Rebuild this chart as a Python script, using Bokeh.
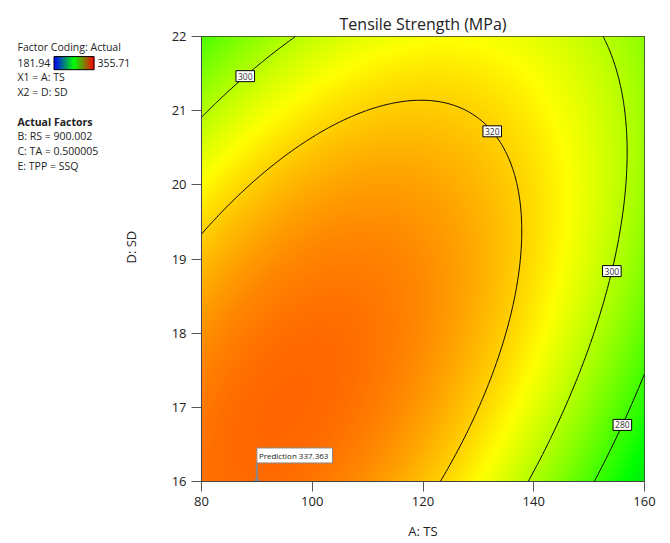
import numpy as np
from bokeh.plotting import figure
from bokeh.layouts import row
from bokeh.models import Range1d, FixedTicker, Label
from bokeh.core.properties import value
from bokeh.embed import file_html
from bokeh.resources import INLINE

# ---- response model: Tensile Strength (MPa) vs A: TS and D: SD ----
ts_range = [80, 160]          # A: TS (actual units)
sd_range = [16, 22]           # D: SD (actual units)
# quadratic in coded units u=(A-120)/40, v=(D-19)/3
# terms: [intercept, u, v, u*v, u^2, v^2]
coefs = [331.54, -15.7, -5.9, 21.4, -24.0, -14.4]
color_min, color_max = 181.94, 355.71

contour_levels = [280, 300, 320]
# contour labels: level, A position, which crossing along D
label_levels = [300, 320, 300, 280]
label_ts = [87.9, 132.5, 154.1, 156.0]
label_branch = ["hi", "hi", "lo", "lo"]

pred_ts, pred_sd, pred_value = 90.0, 16.0, 337.363

legend_lines = ["Factor Coding: Actual", "X1 = A: TS", "X2 = D: SD"]
factor_lines = ["B: RS = 900.002", "C: TA = 0.500005", "E: TPP = SSQ"]

FONT = "Open Sans"
TXT = "#222222"


def coded(a, d):
    u = (a - (ts_range[0] + ts_range[1]) / 2) / ((ts_range[1] - ts_range[0]) / 2)
    v = (d - (sd_range[0] + sd_range[1]) / 2) / ((sd_range[1] - sd_range[0]) / 2)
    return u, v


def model(a, d):
    u, v = coded(a, d)
    b0, b1, b2, b12, b11, b22 = coefs
    return b0 + b1 * u + b2 * v + b12 * u * v + b11 * u * u + b22 * v * v


def sd_on_level(level, a, branch):
    u, _ = coded(a, 0.0)
    b0, b1, b2, b12, b11, b22 = coefs
    qa, qb, qc = b22, b2 + b12 * u, b0 + b1 * u + b11 * u * u - level
    disc = np.sqrt(qb * qb - 4 * qa * qc)
    roots = [(-qb + disc) / (2 * qa), (-qb - disc) / (2 * qa)]
    v = max(roots) if branch == "hi" else min(roots)
    half = (sd_range[1] - sd_range[0]) / 2
    return (sd_range[0] + sd_range[1]) / 2 + v * half


def surface_rgb(t):
    # blue -> green -> yellow -> red
    stops = [0.0, 0.5, 0.75, 1.0]
    r = np.interp(t, stops, [0, 0, 255, 255])
    g = np.interp(t, stops, [0, 255, 255, 0])
    b = np.interp(t, stops, [255, 0, 0, 0])
    return r, g, b


def legend_rgb(t):
    stops = [0.0, 0.5, 1.0]
    r = np.interp(t, stops, [0, 0, 255])
    g = np.interp(t, stops, [0, 255, 0])
    b = np.interp(t, stops, [255, 0, 0])
    return r, g, b


# ---- main contour plot ----
p = figure(width=510, height=543, x_range=Range1d(*ts_range), y_range=Range1d(*sd_range),
           output_backend="svg", toolbar_location=None,
           min_border_left=41, min_border_right=26, min_border_top=36, min_border_bottom=62)
p.grid.visible = False
p.background_fill_color = "white"
p.border_fill_color = "white"
p.outline_line_color = "#333333"

p.title.text = "Tensile Strength (MPa)"
p.title.align = "center"
p.title.text_font = FONT
p.title.text_font_size = "16px"
p.title.text_font_style = "normal"
p.title.text_color = TXT
p.title.standoff = 4

# smooth colour surface
nx, ny = 443, 445
ax = np.linspace(ts_range[0], ts_range[1], nx)
dy = np.linspace(sd_range[0], sd_range[1], ny)
A, D = np.meshgrid(ax, dy)
Z = model(A, D)
t = np.clip((Z - color_min) / (color_max - color_min), 0, 1)
r, g, b = surface_rgb(t)
img = np.empty((ny, nx), dtype=np.uint32)
view = img.view(dtype=np.uint8).reshape((ny, nx, 4))
view[:, :, 0] = r.astype(np.uint8)
view[:, :, 1] = g.astype(np.uint8)
view[:, :, 2] = b.astype(np.uint8)
view[:, :, 3] = 255
p.image_rgba(image=[img], x=ts_range[0], y=sd_range[0],
             dw=ts_range[1] - ts_range[0], dh=sd_range[1] - sd_range[0])

# contour lines
cx = np.linspace(ts_range[0], ts_range[1], 240)
cy = np.linspace(sd_range[0], sd_range[1], 240)
CA, CD = np.meshgrid(cx, cy)
p.contour(x=cx, y=cy, z=model(CA, CD), levels=contour_levels,
          line_color="black", line_width=1)

for lev, a, br in zip(label_levels, label_ts, label_branch):
    p.add_layout(Label(x=a, y=sd_on_level(lev, a, br), text=str(lev),
                       text_align="center", text_baseline="middle",
                       text_font=FONT, text_font_size="8.5px", text_color="#333333",
                       background_fill_color="white", border_line_color="black",
                       border_line_width=1, padding=2))

# prediction flag
p.segment(x0=[pred_ts], y0=[pred_sd], x1=[pred_ts], y1=[pred_sd + 0.25],
          line_color="#888888", line_width=2)
p.scatter(x=[pred_ts], y=[pred_sd], size=5, color="#888888")
p.add_layout(Label(x=pred_ts, y=pred_sd + 0.25, text=f"Prediction  {pred_value:.3f}",
                   text_align="left", text_baseline="bottom",
                   text_font=FONT, text_font_size="8px", text_color=TXT,
                   background_fill_color="white", border_line_color="#888888",
                   border_line_width=1, padding=2))

# axes
p.xaxis.ticker = FixedTicker(ticks=[80, 100, 120, 140, 160])
p.yaxis.ticker = FixedTicker(ticks=[16, 17, 18, 19, 20, 21, 22])
for axis in (p.xaxis, p.yaxis):
    axis.major_tick_out = 10
    axis.major_tick_in = 0
    axis.minor_tick_out = 0
    axis.minor_tick_in = 0
    axis.axis_line_color = "#444444"
    axis.major_tick_line_color = "#555555"
    axis.major_label_text_font = FONT
    axis.major_label_text_font_size = "13px"
    axis.major_label_text_color = TXT
p.xaxis.axis_label = "A: TS"
p.xaxis.axis_label_text_font = FONT
p.xaxis.axis_label_text_font_size = "13px"
p.xaxis.axis_label_text_font_style = "normal"
p.xaxis.axis_label_text_color = TXT
p.xaxis.axis_label_standoff = 13

# ---- side panel with coding info, colour key and y-axis title ----
s = figure(width=160, height=543, x_range=Range1d(0, 160), y_range=Range1d(543, 0),
           output_backend="svg", toolbar_location=None,
           x_axis_location=None, y_axis_location=None, min_border=0)
s.grid.visible = False
s.outline_line_color = None
s.background_fill_color = "white"
s.border_fill_color = "white"

s.text(x=[17, 17, 17], y=[13, 50, 68], text=legend_lines, text_font=value(FONT),
       text_font_size="10.5px", text_color=TXT, text_baseline="middle")
s.text(x=[17], y=[32], text=[f"{color_min:.2f}"], text_font=value(FONT),
       text_font_size="10.5px", text_color=TXT, text_baseline="middle")
s.text(x=[97], y=[32], text=[f"{color_max:.2f}"], text_font=value(FONT),
       text_font_size="10.5px", text_color=TXT, text_baseline="middle")
s.text(x=[17], y=[104], text=["Actual Factors"], text_font=value(FONT),
       text_font_size="10.5px", text_font_style="bold", text_color=TXT, text_baseline="middle")
s.text(x=[17, 17, 17], y=[122, 140, 158], text=factor_lines, text_font=value(FONT),
       text_font_size="10.5px", text_color=TXT, text_baseline="middle")

# colour key
nk = 40
edges = np.linspace(53.5, 93.5, nk + 1)
kt = (np.arange(nk) + 0.5) / nk
kr, kg, kb = legend_rgb(kt)
kcolors = ["#%02x%02x%02x" % (int(a), int(bb), int(c)) for a, bb, c in zip(kr, kg, kb)]
s.quad(left=edges[:-1], right=edges[1:] + 0.3, top=[24.5] * nk, bottom=[40.5] * nk,
       fill_color=kcolors, line_color=None)
s.quad(left=[53.5], right=[93.5], top=[24.5], bottom=[40.5],
       fill_color=None, line_color="black", line_width=1)

s.text(x=[130], y=[257], text=["D: SD"], angle=np.pi / 2, text_font=value(FONT),
       text_font_size="13px", text_color=TXT, text_align="center", text_baseline="middle")

layout = row(s, p)
open("out.html", "w").write(file_html(layout, INLINE))
